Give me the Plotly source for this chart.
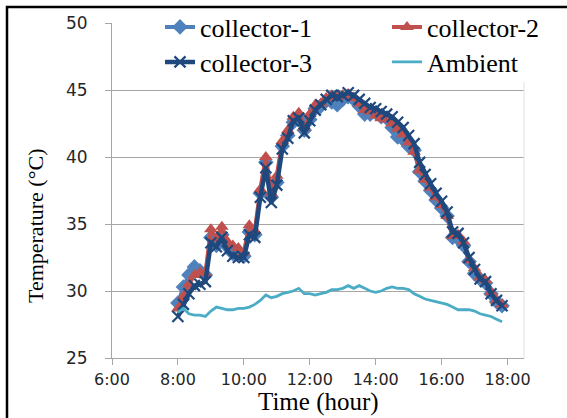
import plotly.graph_objects as go

times = ["8:00","8:10","8:20","8:30","8:40","8:50","9:00","9:10","9:20","9:30","9:40","9:50",
         "10:00","10:10","10:20","10:30","10:40","10:50","11:00","11:10","11:20","11:30","11:40","11:50",
         "12:00","12:10","12:20","12:30","12:40","12:50","13:00","13:10","13:20","13:30","13:40","13:50",
         "14:00","14:10","14:20","14:30","14:40","14:50","15:00","15:10","15:20","15:30","15:40","15:50",
         "16:00","16:10","16:20","16:30","16:40","16:50","17:00","17:10","17:20","17:30","17:40","17:50"]

collector1 = [29.1,30.3,31.2,31.8,31.5,31.2,34.0,33.4,34.2,33.3,32.8,32.8,
              32.6,34.4,34.2,37.3,39.6,37.0,38.1,40.8,41.6,42.6,42.8,42.0,
              42.8,43.6,43.8,44.2,44.1,43.9,44.3,44.5,44.3,43.8,43.2,43.2,
              43.3,43.0,42.9,42.2,41.5,41.3,40.8,40.5,38.9,38.2,37.5,36.8,
              36.2,35.6,34.0,33.9,33.4,32.2,31.3,30.9,30.6,29.8,29.2,28.9]
collector2 = [28.7,29.6,30.5,31.2,31.4,31.3,34.6,33.9,34.8,33.7,33.4,33.2,
              32.9,34.9,34.5,37.6,40.0,37.3,38.6,41.2,42.0,43.0,43.3,42.2,
              43.2,43.9,44.0,44.4,44.6,44.5,44.6,44.7,44.4,44.0,43.5,43.4,
              43.1,42.9,42.8,42.5,42.1,41.7,41.1,40.4,39.0,38.3,37.7,37.0,
              36.4,35.6,34.1,34.2,33.7,32.3,31.7,31.0,30.8,29.9,29.3,29.0]
collector3 = [28.1,29.0,29.8,30.4,30.5,30.7,33.6,33.3,34.0,33.0,32.6,32.5,
              32.5,34.2,34.0,37.0,39.2,36.6,37.9,40.6,41.4,42.7,42.9,41.8,
              42.7,43.5,43.9,44.3,44.6,44.5,44.6,44.8,44.6,44.3,44.0,43.7,
              43.6,43.4,43.2,43.0,42.6,42.2,41.6,41.0,39.6,38.7,38.0,37.3,
              36.7,35.9,34.4,34.3,33.6,32.5,31.6,30.9,30.7,29.8,29.3,28.9]
ambient = [28.4,28.7,28.3,28.2,28.2,28.1,28.5,28.8,28.7,28.6,28.6,28.7,
           28.7,28.8,29.0,29.3,29.7,29.5,29.6,29.8,29.9,30.0,30.2,29.8,
           29.8,29.7,29.8,29.9,30.1,30.1,30.2,30.4,30.2,30.4,30.2,30.0,
           29.9,30.0,30.2,30.3,30.2,30.2,30.1,29.8,29.6,29.4,29.3,29.2,
           29.1,29.0,28.8,28.6,28.6,28.6,28.5,28.3,28.2,28.1,27.9,27.7]

x_tick_labels = ["6:00","8:00","10:00","12:00","14:00","16:00","18:00"]
y_ticks = [25, 30, 35, 40, 45, 50]
x_title = "Time (hour)"
y_title = "Temperature (°C)"

def to_hours(t):
    h, m = t.split(":")
    return int(h) + int(m) / 60.0

hours = [to_hours(t) for t in times]
x_tick_vals = [to_hours(t) for t in x_tick_labels]

W, H = 567, 418
ML, MR, MT, MB = 112, 43, 23, 60
PW, PH = W - ML - MR, H - MT - MB

def px(xp):
    return (xp - ML) / PW

def py(yp):
    return (H - MB - yp) / PH

C1 = "#4F81BD"
C2 = "#C0504D"
C3 = "#1F497D"
CA = "#4BACC6"

fig = go.Figure()
fig.add_trace(go.Scatter(x=hours, y=collector1, name="collector-1", mode="lines+markers",
                         line=dict(color=C1, width=4),
                         marker=dict(symbol="diamond", size=12, color=C1), legend="legend"))
fig.add_trace(go.Scatter(x=hours, y=collector2, name="collector-2", mode="lines+markers",
                         line=dict(color=C2, width=4),
                         marker=dict(symbol="triangle-up", size=12, color=C2), legend="legend2"))
fig.add_trace(go.Scatter(x=hours, y=collector3, name="collector-3", mode="lines+markers",
                         line=dict(color=C3, width=4.5),
                         marker=dict(symbol="x-thin", size=11, color=C3,
                                     line=dict(color=C3, width=2.2)), legend="legend3"))
fig.add_trace(go.Scatter(x=hours, y=ambient, name="Ambient", mode="lines",
                         line=dict(color=CA, width=2.8), legend="legend4"))

serif = "Liberation Serif"

fig.update_xaxes(range=[6, 18.5], tickvals=x_tick_vals, ticktext=x_tick_labels,
                 showgrid=False, zeroline=False, showline=True, linecolor="#A6A6A6", linewidth=1,
                 ticks="outside", ticklen=6, tickcolor="#A6A6A6",
                 tickfont=dict(family="DejaVu Sans", size=16, color="#262626"),
                 ticklabelstandoff=1)
fig.update_yaxes(range=[25, 50], tickvals=y_ticks,
                 showgrid=True, gridcolor="#A6A6A6", gridwidth=1, zeroline=False,
                 showline=True, linecolor="#A6A6A6", linewidth=1,
                 ticks="outside", ticklen=6, tickcolor="#A6A6A6",
                 tickfont=dict(family="DejaVu Sans", size=17, color="#262626"),
                 ticklabelstandoff=14)

legend_font = dict(family=serif, size=26, color="black")
common_legend = dict(orientation="h", font=legend_font, bgcolor="rgba(0,0,0,0)",
                     xanchor="left", yanchor="middle", itemwidth=30, traceorder="normal")

fig.update_layout(
    width=W, height=H,
    margin=dict(l=ML, r=MR, t=MT, b=MB, autoexpand=False),
    paper_bgcolor="white", plot_bgcolor="white",
    showlegend=True,
    legend=dict(x=px(160), y=py(27), **common_legend),
    legend2=dict(x=px(387), y=py(27), **common_legend),
    legend3=dict(x=px(160), y=py(62), **common_legend),
    legend4=dict(x=px(387), y=py(62), **common_legend),
    annotations=[
        dict(text=x_title, xref="paper", yref="paper", x=px(318.5), y=py(402),
             xanchor="center", yanchor="middle", showarrow=False,
             font=dict(family=serif, size=25, color="black")),
        dict(text=y_title, xref="paper", yref="paper", x=px(36), y=py(226),
             xanchor="center", yanchor="middle", showarrow=False, textangle=-90,
             font=dict(family=serif, size=22, color="black")),
    ],
    shapes=[
        dict(type="rect", xref="paper", yref="paper",
             x0=px(114), x1=px(563), y0=py(9), y1=py(82),
             fillcolor="white", line=dict(width=0), layer="above"),
        dict(type="line", xref="paper", yref="paper",
             x0=px(524), x1=px(524), y0=py(82), y1=0,
             line=dict(color="#E3E3DA", width=1), layer="above"),
        dict(type="rect", xref="paper", yref="paper",
             x0=px(7), x1=px(620), y0=py(7), y1=py(460),
             fillcolor="rgba(0,0,0,0)", line=dict(color="black", width=2.5), layer="above"),
    ],
)

fig.write_html("out.html", config={"displayModeBar": False},
               post_script="document.body.style.margin='0';document.body.style.overflow='hidden';")
